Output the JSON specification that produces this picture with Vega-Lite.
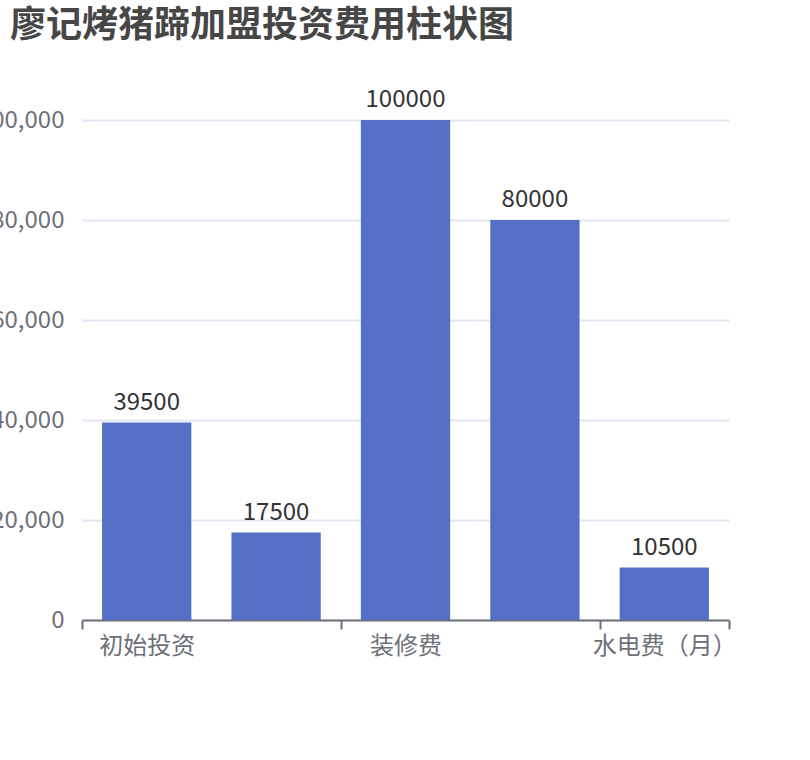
{
  "$schema": "https://vega.github.io/schema/vega-lite/v6.json",
  "autosize": "none",
  "width": 647,
  "height": 500,
  "padding": {"left": 82, "top": 120, "right": 81, "bottom": 140},
  "background": "white",
  "title": {
    "text": "廖记烤猪蹄加盟投资费用柱状图",
    "anchor": "start",
    "frame": "group",
    "font": "Noto Sans CJK SC",
    "fontSize": 36,
    "fontWeight": "bold",
    "color": "#464646",
    "dx": -72,
    "dy": -39
  },
  "data": {
    "values": [
      {"item": "初始投资", "cost": 39500},
      {"item": "加盟费", "cost": 17500},
      {"item": "装修费", "cost": 100000},
      {"item": "设备费", "cost": 80000},
      {"item": "水电费（月）", "cost": 10500}
    ]
  },
  "encoding": {
    "x": {
      "field": "item",
      "type": "nominal",
      "sort": null,
      "scale": {"paddingInner": 0, "paddingOuter": 0},
      "axis": {
        "title": null,
        "labelAngle": 0,
        "labelFont": "Noto Sans CJK SC",
        "labelFontSize": 24,
        "labelColor": "#6E7079",
        "labelPadding": 5,
        "labelExpr": "datum.value == '加盟费' || datum.value == '设备费' ? '' : datum.value",
        "domainColor": "#6E7079",
        "domainWidth": 2,
        "tickColor": "#6E7079",
        "tickWidth": 2,
        "tickSize": 9,
        "tickBand": "extent",
        "tickOpacity": {
          "condition": {"test": "datum.value == '初始投资' || datum.value == '装修费'", "value": 0},
          "value": 1
        },
        "grid": false
      }
    },
    "y": {
      "field": "cost",
      "type": "quantitative",
      "scale": {"domain": [0, 100000]},
      "axis": {
        "title": null,
        "values": [0, 20000, 40000, 60000, 80000, 100000],
        "format": ",d",
        "labelFont": "Noto Sans CJK SC",
        "labelFontSize": 24,
        "labelColor": "#6E7079",
        "labelPadding": 18,
        "domain": false,
        "ticks": false,
        "grid": true,
        "gridColor": "#E0E6F1",
        "gridWidth": 2
      }
    }
  },
  "layer": [
    {"mark": {"type": "bar", "color": "#5470c6", "width": {"band": 0.69}}},
    {
      "mark": {
        "type": "text",
        "baseline": "alphabetic",
        "dy": -13,
        "font": "Noto Sans CJK SC",
        "fontSize": 24,
        "color": "#333333"
      },
      "encoding": {"text": {"field": "cost", "type": "quantitative"}}
    }
  ],
  "config": {"view": {"stroke": null}}
}
